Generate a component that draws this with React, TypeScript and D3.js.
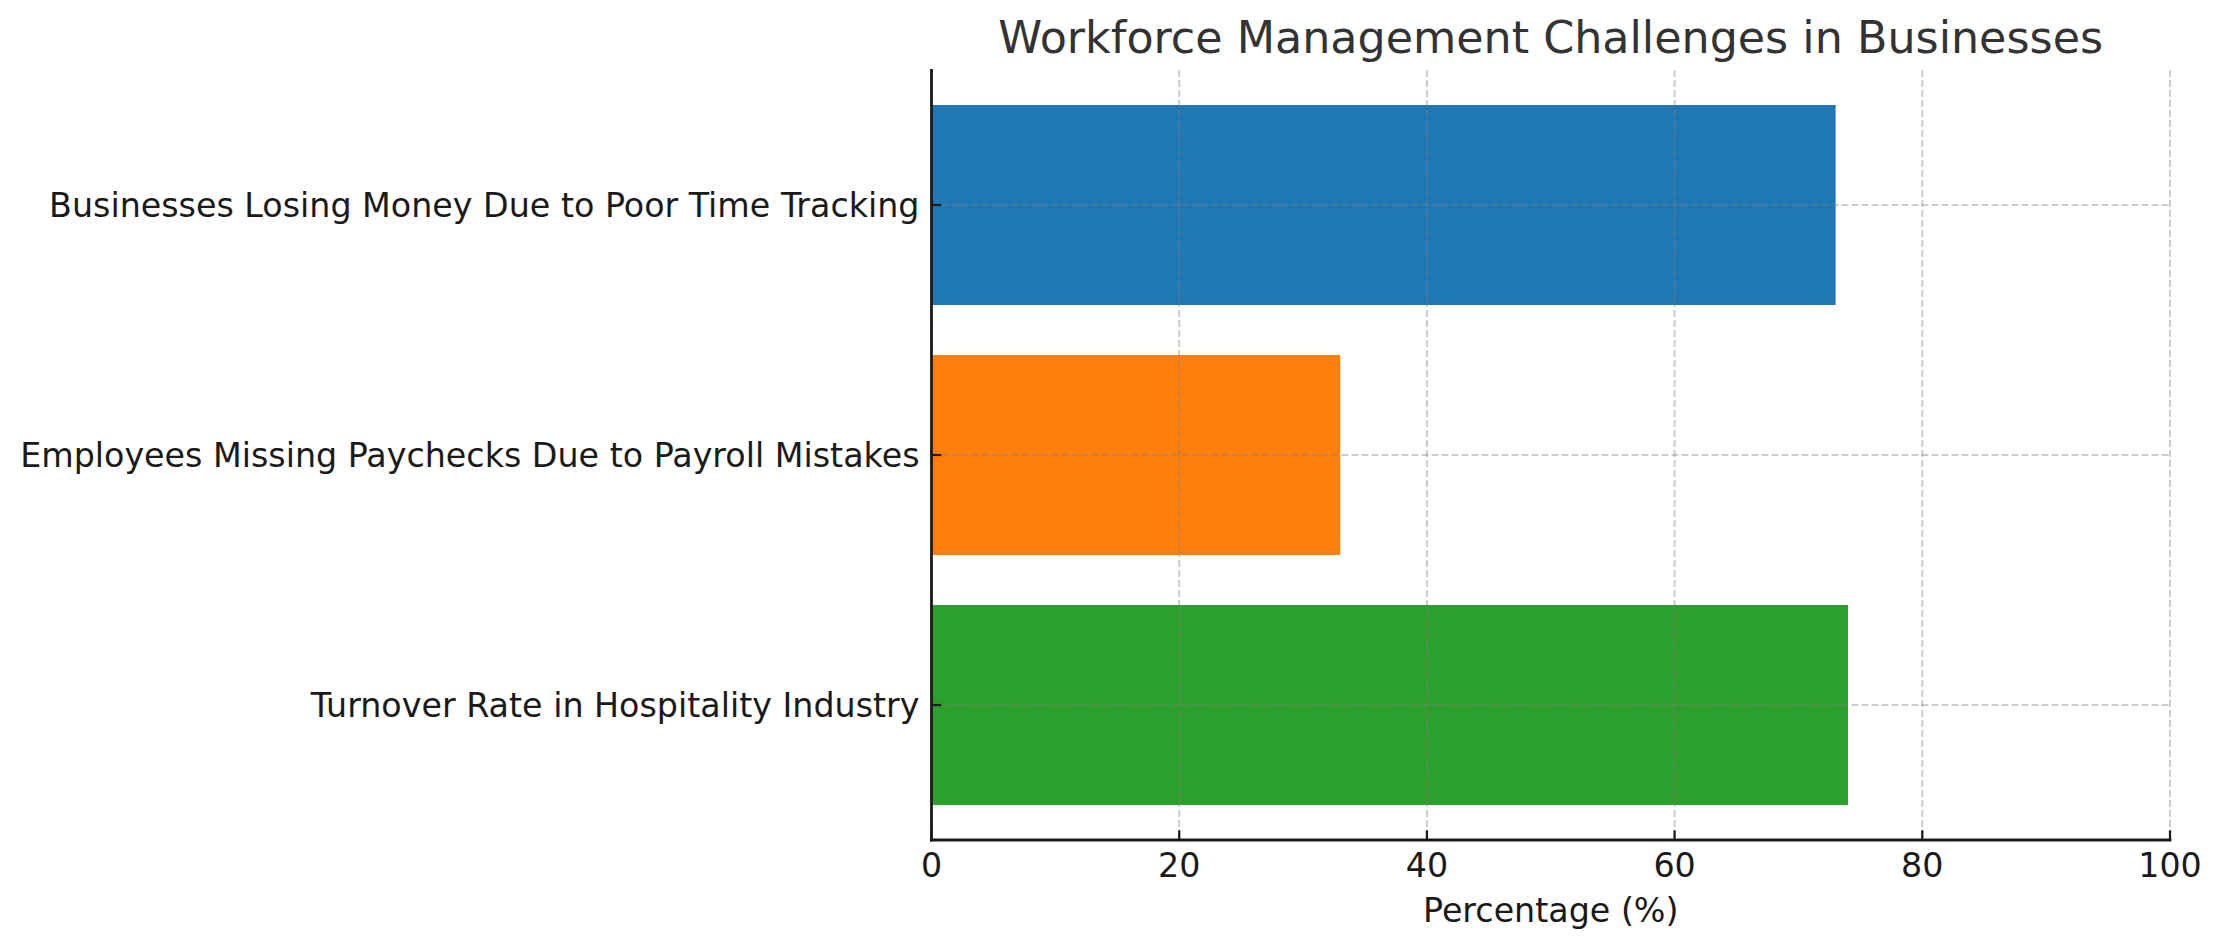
import React from "react";
import * as d3 from "d3";

const categories = [
  "Turnover Rate in Hospitality Industry",
  "Employees Missing Paychecks Due to Payroll Mistakes",
  "Businesses Losing Money Due to Poor Time Tracking",
];
const values = [74, 33, 73];
const barColors = ["#2ca02c", "#ff7f0e", "#1f77b4"];
const xTicks = [0, 20, 40, 60, 80, 100];
const title = "Workforce Management Challenges in Businesses";
const xLabel = "Percentage (%)";

const W = 2222;
const H = 947;
const M = { left: 931.5, right: 2170, top: 70, bottom: 840 };
const FONT = "'DejaVu Sans', sans-serif";
const FS = 33.3;

export default function App() {
  const x = d3.scaleLinear().domain([0, 100]).range([M.left, M.right]);
  // matplotlib barh: positions 0..n-1, height 0.8, 5% margins
  const n = categories.length;
  const lo = -0.4, hi = n - 1 + 0.4;
  const pad = (hi - lo) * 0.05;
  const y = d3.scaleLinear().domain([lo - pad, hi + pad]).range([M.bottom, M.top]);
  const barH = Math.abs(y(0.8) - y(0));

  return (
    <svg
      width={W}
      height={H}
      viewBox={`0 0 ${W} ${H}`}
      style={{ position: "absolute", left: 0, top: 0, background: "#fff" }}
      fontFamily={FONT}
    >
      <rect x={0} y={0} width={W} height={H} fill="#fff" />
      {/* bars */}
      {categories.map((c, i) => (
        <rect
          key={c}
          x={x(0)}
          y={y(i) - barH / 2}
          width={x(values[i]) - x(0)}
          height={barH}
          fill={barColors[i]}
        />
      ))}
      {/* grid */}
      {xTicks.map((t) => (
        <line
          key={"gx" + t}
          x1={x(t)}
          x2={x(t)}
          y1={M.top}
          y2={M.bottom}
          stroke="#808080"
          strokeOpacity={0.4}
          strokeWidth={2}
          strokeDasharray="7,3"
        />
      ))}
      {categories.map((c, i) => (
        <line
          key={"gy" + i}
          x1={M.left}
          x2={M.right}
          y1={y(i)}
          y2={y(i)}
          stroke="#808080"
          strokeOpacity={0.4}
          strokeWidth={2}
          strokeDasharray="7,3"
        />
      ))}
      {/* spines */}
      <line x1={M.left} x2={M.left} y1={M.top - 1} y2={M.bottom + 1.4} stroke="#1a1a1a" strokeWidth={2.8} />
      <line x1={M.left - 1.4} x2={M.right + 1.4} y1={M.bottom} y2={M.bottom} stroke="#1a1a1a" strokeWidth={2.8} />
      {/* x ticks */}
      {xTicks.map((t) => (
        <g key={"xt" + t}>
          <line x1={x(t)} x2={x(t)} y1={M.bottom} y2={M.bottom - 9.7} stroke="#1a1a1a" strokeWidth={2.2} />
          <text
            x={x(t)}
            y={877}
            textAnchor="middle"
            fontSize={FS}
            fill="#1a1a1a"
          >
            {t}
          </text>
        </g>
      ))}
      {/* y ticks */}
      {categories.map((c, i) => (
        <g key={"yt" + i}>
          <line x1={M.left} x2={M.left + 9.7} y1={y(i)} y2={y(i)} stroke="#1a1a1a" strokeWidth={2.2} />
          <text
            x={M.left - 12}
            y={y(i)}
            dy="0.36em"
            textAnchor="end"
            fontSize={FS}
            fill="#1a1a1a"
          >
            {c}
          </text>
        </g>
      ))}
      {/* labels */}
      <text
        x={(M.left + M.right) / 2}
        y={922}
        textAnchor="middle"
        fontSize={FS}
        fill="#1a1a1a"
      >
        {xLabel}
      </text>
      <text
        x={(M.left + M.right) / 2}
        y={53}
        textAnchor="middle"
        fontSize={44.4}
        fill="#333333"
      >
        {title}
      </text>
    </svg>
  );
}
